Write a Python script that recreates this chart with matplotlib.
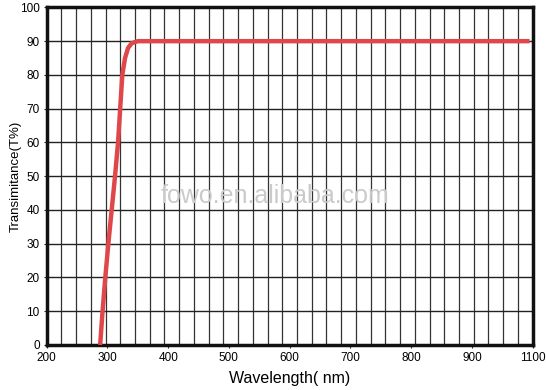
import numpy as np
import matplotlib
matplotlib.use("Agg")
import matplotlib.pyplot as plt

plt.rcParams['font.family'] = ['Liberation Sans', 'DejaVu Sans']

# curva di trasmittanza
lunghezze = [288, 292, 296.5, 301.5, 307, 312.5, 317.5, 321, 324.5, 329, 334, 340, 350, 356, 995]
trasmittanza = [0, 10, 20, 30, 40, 50, 60, 70, 80, 85, 88, 89.4, 90, 90, 90]

# etichette asse x (l'ultima e' "1100" sul bordo destro, come nell'originale)
tick_x = [200, 300, 400, 500, 600, 700, 800, 900, 1000]
etichette_x = ['200', '300', '400', '500', '600', '700', '800', '900', '1100']
tick_y = [0, 10, 20, 30, 40, 50, 60, 70, 80, 90, 100]

fig = plt.figure(figsize=(5.46, 3.90), dpi=100)
ax = fig.add_axes([0.0855, 0.1154, 0.89, 0.8656])

# griglia: 33 colonne verticali, righe ogni 10%
for xg in np.linspace(200, 1000, 34)[1:-1]:
    ax.axvline(xg, color='#333333', lw=0.9, zorder=1)
for yg in tick_y[1:-1]:
    ax.axhline(yg, color='#222222', lw=1.0, zorder=1)

ax.plot(lunghezze, trasmittanza, color='#e0474a', lw=3.2, solid_capstyle='butt', zorder=3)

ax.set_xlim(200, 1000)
ax.set_ylim(0, 100)
ax.set_xticks(tick_x)
ax.set_xticklabels(etichette_x)
ax.set_yticks(tick_y)
ax.tick_params(axis='both', labelsize=8.5, length=2, width=0.8, color='#222222', pad=3)

for s in ax.spines.values():
    s.set_linewidth(2.5)
    s.set_color('#111111')

ax.set_xlabel('Wavelength( nm)', fontsize=11.5, labelpad=5)
ax.set_ylabel('Transimitance(T%)', fontsize=9.5)
ax.yaxis.set_label_coords(-0.052, 0.5)

# filigrana
ax.text(0.47, 0.442, 'fowo.en.alibaba.com', transform=ax.transAxes, ha='center', va='center',
        fontsize=18, color='#cacaca', family=['Liberation Sans Narrow', 'Liberation Sans'], zorder=2)

fig.savefig('out.png', dpi=100)
